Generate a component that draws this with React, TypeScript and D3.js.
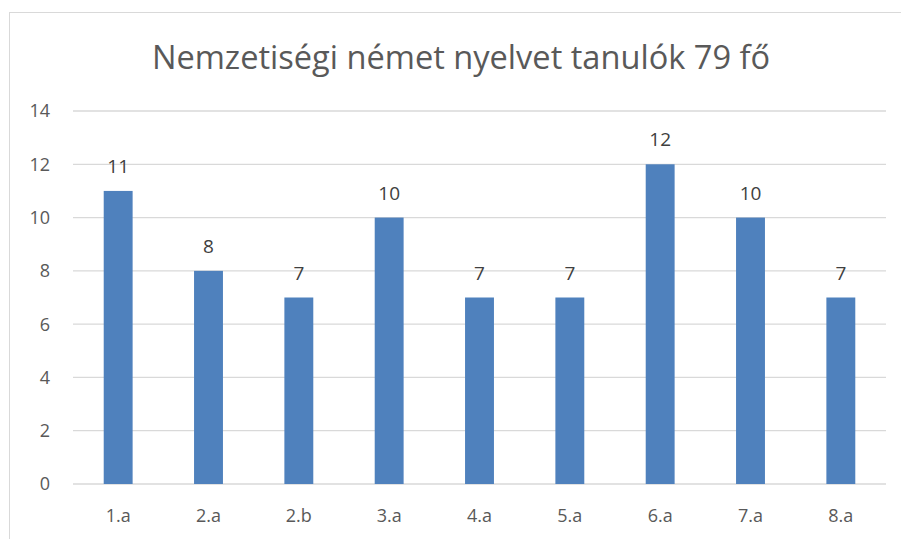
import React from "react";
import * as d3 from "d3";

const categories = ["1.a", "2.a", "2.b", "3.a", "4.a", "5.a", "6.a", "7.a", "8.a"];
const values = [11, 8, 7, 10, 7, 7, 12, 10, 7];
const yTicks = [0, 2, 4, 6, 8, 10, 12, 14];
const title = "Nemzetiségi német nyelvet tanulók 79 fő";

const W = 901;
const H = 539;
const margin = { top: 111, right: 15, bottom: 55, left: 73 };
const FONT = "'Open Sans', 'Noto Sans', sans-serif";

export default function App() {
  const innerW = W - margin.left - margin.right;
  const innerH = H - margin.top - margin.bottom;

  const x = d3.scaleBand<string>().domain(categories).range([0, innerW]).paddingInner(0.68).paddingOuter(0.34);
  const y = d3.scaleLinear().domain([0, 14]).range([innerH, 0]);

  return (
    <svg
      width={W}
      height={H}
      style={{ position: "absolute", left: 0, top: 0, background: "#fff" }}
    >
      {/* chart frame, cropped at right and bottom */}
      <rect x={9.5} y={12.5} width={W} height={H} fill="#fff" stroke="#d9d9d9" />
      <text
        x={461}
        y={69}
        textAnchor="middle"
        fontFamily={FONT}
        fontSize={32.6}
        fill="#595959"
      >
        {title}
      </text>
      <g transform={`translate(${margin.left},${margin.top})`}>
        {yTicks.map((t) => (
          <g key={t}>
            <line x1={0} x2={innerW} y1={y(t)} y2={y(t)} stroke="#d9d9d9" strokeWidth={1.3} />
            <text
              x={-23}
              y={y(t)}
              dy="0.36em"
              textAnchor="end"
              fontFamily={FONT}
              fontSize={18}
              fill="#595959"
            >
              {t}
            </text>
          </g>
        ))}
        {categories.map((c, i) => (
          <g key={c}>
            <rect
              x={x(c)}
              y={y(values[i])}
              width={x.bandwidth()}
              height={innerH - y(values[i])}
              fill="#4f81bd"
            />
            <text
              x={(x(c) ?? 0) + x.bandwidth() / 2}
              y={y(values[i]) - 18}
              textAnchor="middle"
              fontFamily={FONT}
              fontSize={19}
              fill="#404040"
            >
              {values[i]}
            </text>
            <text
              x={(x(c) ?? 0) + x.bandwidth() / 2}
              y={innerH + 38}
              textAnchor="middle"
              fontFamily={FONT}
              fontSize={18}
              fill="#595959"
            >
              {c}
            </text>
          </g>
        ))}
      </g>
    </svg>
  );
}
